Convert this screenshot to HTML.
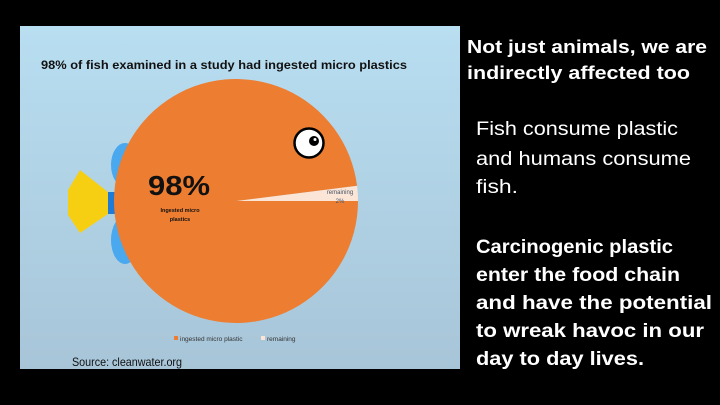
<!DOCTYPE html>
<html><head><meta charset="utf-8">
<style>
html,body{margin:0;padding:0;background:#000;width:720px;height:405px;overflow:hidden}
svg{display:block}
text{font-family:"Liberation Sans",sans-serif}
</style></head>
<body>
<svg width="720" height="405" viewBox="0 0 720 405">
<defs>
<linearGradient id="bg" x1="0" y1="0" x2="0" y2="1">
<stop offset="0" stop-color="#b8def1"/><stop offset="1" stop-color="#a8c5d8"/>
</linearGradient>
</defs>
<rect x="0" y="0" width="720" height="405" fill="#000"/>
<rect x="20" y="26" width="440" height="343" fill="url(#bg)"/>
<text x="41" y="69" font-size="12" font-weight="bold" fill="#111" textLength="366" lengthAdjust="spacingAndGlyphs">98% of fish examined in a study had ingested micro plastics</text>
<g>
<ellipse cx="125" cy="165" rx="14" ry="22" fill="#4aa8ee"/>
<ellipse cx="125" cy="240" rx="14" ry="24" fill="#4aa8ee"/>
<rect x="100" y="192" width="20" height="22" fill="#1f7bd6"/>
<polygon points="80,170 108,192 108,214 80,233 68,215 68,190" fill="#f7cf12"/>
</g>
<g id="pie"></g>
<g>
<circle cx="309" cy="143" r="14.5" fill="#fff" stroke="#000" stroke-width="2.5"/>
<circle cx="314" cy="141" r="5" fill="#000"/>
<circle cx="315" cy="139.5" r="1.5" fill="#fff"/>
</g>
<text x="179" y="195" font-size="28" font-weight="bold" fill="#111" text-anchor="middle" textLength="62" lengthAdjust="spacingAndGlyphs">98%</text>
<text x="180" y="212" font-size="5.5" font-weight="bold" fill="#111" text-anchor="middle">Ingested micro</text>
<text x="180" y="221" font-size="5.5" font-weight="bold" fill="#111" text-anchor="middle">plastics</text>
<text x="340" y="194" font-size="6" fill="#44546a" text-anchor="middle">remaining</text>
<text x="340" y="203" font-size="6" fill="#44546a" text-anchor="middle">2%</text>
<g>
<rect x="174" y="336" width="4" height="4" fill="#ed7d31"/>
<text x="180" y="341" font-size="6.5" fill="#333">ingested micro plastic</text>
<rect x="261" y="336" width="4" height="4" fill="#fbe5d6"/>
<text x="267" y="341" font-size="6.5" fill="#333">remaining</text>
</g>
<text x="72" y="366" font-size="12" fill="#111" textLength="110" lengthAdjust="spacingAndGlyphs">Source: cleanwater.org</text>
<g fill="#fff" font-weight="bold">
<text x="467" y="53" font-size="18" textLength="240" lengthAdjust="spacingAndGlyphs">Not just animals, we are</text>
<text x="467" y="79" font-size="18" textLength="223" lengthAdjust="spacingAndGlyphs">indirectly affected too</text>
</g>
<g fill="#fff">
<text x="476" y="135" font-size="19" textLength="202" lengthAdjust="spacingAndGlyphs">Fish consume plastic</text>
<text x="476" y="165" font-size="19" textLength="215" lengthAdjust="spacingAndGlyphs">and humans consume</text>
<text x="476" y="193" font-size="19" textLength="42" lengthAdjust="spacingAndGlyphs">fish.</text>
<g font-weight="bold">
<text x="476" y="253" font-size="19" textLength="197" lengthAdjust="spacingAndGlyphs">Carcinogenic plastic</text>
<text x="476" y="281" font-size="19" textLength="204" lengthAdjust="spacingAndGlyphs">enter the food chain</text>
<text x="476" y="309" font-size="19" textLength="236" lengthAdjust="spacingAndGlyphs">and have the potential</text>
<text x="476" y="337" font-size="19" textLength="228" lengthAdjust="spacingAndGlyphs">to wreak havoc in our</text>
<text x="476" y="365" font-size="19" textLength="168" lengthAdjust="spacingAndGlyphs">day to day lives.</text>
</g>
</g>
</svg>
<script>
const categories = ["ingested micro plastic", "remaining"];
const values = [98, 2];
const colors = ["#ed7d31", "#fbe5d6"];
(function(){
  const g = document.getElementById('pie');
  const cx = 236, cy = 201, r = 122;
  const total = values.reduce((a,b)=>a+b,0);
  let start = 0;
  const order = [1, 0];
  order.forEach(i => {
    const sweep = values[i] / total * 2 * Math.PI;
    const a0 = start, a1 = start + sweep;
    const x0 = cx + r * Math.cos(a0), y0 = cy - r * Math.sin(a0);
    const x1 = cx + r * Math.cos(a1), y1 = cy - r * Math.sin(a1);
    const large = sweep > Math.PI ? 1 : 0;
    const p = document.createElementNS('http://www.w3.org/2000/svg', 'path');
    p.setAttribute('d', `M${cx},${cy} L${x0},${y0} A${r},${r} 0 ${large} 0 ${x1},${y1} Z`);
    p.setAttribute('fill', colors[i]);
    
    
    g.appendChild(p);
    start = a1;
  });
})();
</script>
</body></html>
